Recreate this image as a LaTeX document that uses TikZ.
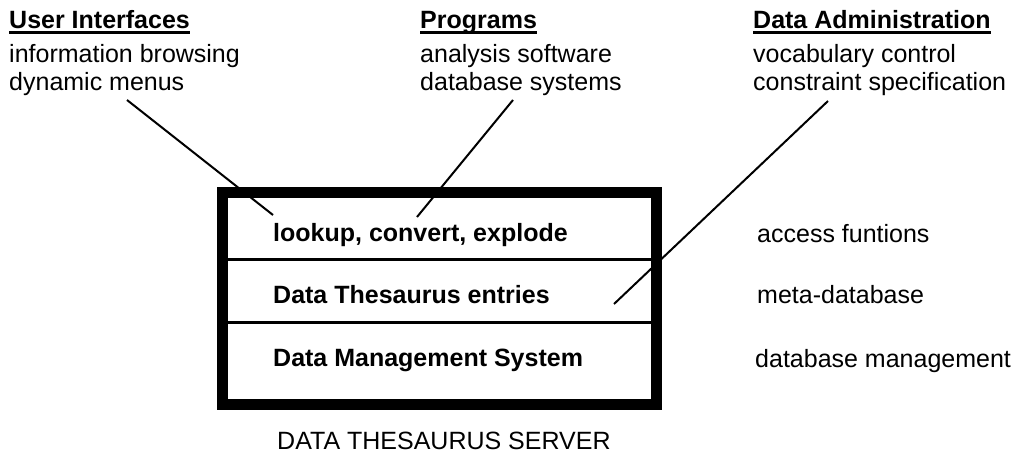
\documentclass[tikz,border=0pt]{standalone}
\usepackage{fontspec}
\setmainfont{Liberation Sans}
\begin{document}
\begin{tikzpicture}[x=1pt,y=-1pt,
  txt/.style={anchor=base west,inner sep=0pt,font=\fontsize{25}{30}\selectfont},
  head/.style={txt,font=\fontsize{25}{30}\selectfont\bfseries},
  rowtxt/.style={txt,font=\fontsize{25}{30}\selectfont\bfseries},
  uline/.style={line width=2.4pt},
  link/.style={line width=2pt},
  divider/.style={line width=3pt}]
\useasboundingbox (0,0) rectangle (1015,453);

% column headings with their entries
\node[head] (ui)  at (9,28)   {User Interfaces};
\node[txt]  (ui1) at (9,62)   {information browsing};
\node[txt]  (ui2) at (9,90)   {dynamic menus};
\node[head] (pg)  at (420,28) {Programs};
\node[txt]  (pg1) at (420,62) {analysis software};
\node[txt]  (pg2) at (420,90) {database systems};
\node[head] (da)  at (753,28) {Data Administration};
\node[txt]  (da1) at (753,62) {vocabulary control};
\node[txt]  (da2) at (753,90) {constraint specification};
\foreach \h in {ui,pg,da}
  \draw[uline] ([yshift=-4.5pt]\h.base west) -- ([yshift=-4.5pt]\h.base east);

% the server box and its layers
\node[draw,line width=11pt,minimum width=434pt,minimum height=212pt,inner sep=0pt]
  (box) at (439.5,298.5) {};
\draw[divider] (box.west |- 0,259) -- (box.east |- 0,259);
\draw[divider] (box.west |- 0,322) -- (box.east |- 0,322);
\node[rowtxt] (r1) at (273,241) {lookup, convert, explode};
\node[rowtxt] (r2) at (273,303) {Data Thesaurus entries};
\node[rowtxt] (r3) at (273,366) {Data Management System};

% layer roles
\node[txt] (s1) at (757,242) {access funtions};
\node[txt] (s2) at (757,303) {meta-database};
\node[txt] (s3) at (755,367) {database management};

\node[txt] (srv) at (277,449) {DATA THESAURUS SERVER};

% connectors from the clients into the layers
\coordinate (uiA) at (127,100);
\coordinate (uiB) at (273,215);
\coordinate (pgA) at (513,100);
\coordinate (pgB) at (417,217);
\coordinate (daA) at (828,101);
\coordinate (daB) at (614,304);
\draw[link] (uiA) -- (uiB);
\draw[link] (pgA) -- (pgB);
\draw[link] (daA) -- (daB);
\end{tikzpicture}
\end{document}
